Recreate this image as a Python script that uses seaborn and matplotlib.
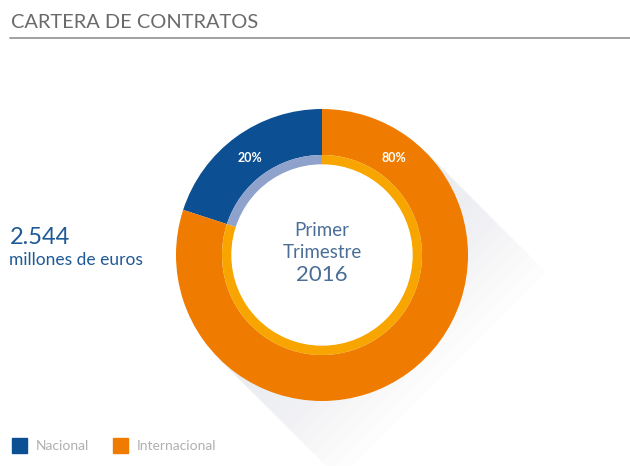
import numpy as np
import matplotlib
matplotlib.use("Agg")
import matplotlib.pyplot as plt
import seaborn as sns
from matplotlib.patches import Polygon

# ---- data ----
categories = ["Nacional", "Internacional"]
shares = [20, 80]
pct_labels = ["20%", "80%"]
title = "CARTERA DE CONTRATOS"
total_value = "2.544"
total_unit = "millones de euros"
center_lines = ["Primer", "Trimestre", "2016"]

main_colors = ["#0d4f93", "#ef7b00"]
inner_colors = ["#8fa2cc", "#f8a500"]

sns.set_theme(style="white")
plt.rcParams['font.family'] = ['Lato', 'DejaVu Sans']

W, H = 630, 466
fig = plt.figure(figsize=(W / 100, H / 100), dpi=100)
ax = fig.add_axes([0, 0, 1, 1])
ax.set_xlim(0, W)
ax.set_ylim(0, H)
ax.set_axis_off()

cx, cy = 322, H - 255
R_out, R_mid, R_in = 146, 100, 90

# long shadow (down-right, fading)
d = np.array([1, -1]) / np.sqrt(2)
p1 = np.array([cx, cy]) + R_out * np.array([np.cos(np.pi / 4), np.sin(np.pi / 4)])
p2 = np.array([cx, cy]) + R_out * np.array([np.cos(5 * np.pi / 4), np.sin(5 * np.pi / 4)])
for L in np.linspace(20, 170, 14):
    poly = Polygon([p1, p1 + L * d, p2 + L * d, p2], closed=True,
                   facecolor="#cfd3da", edgecolor="none", alpha=0.03, zorder=1)
    ax.add_patch(poly)

# donut rings
ax.pie(shares, colors=main_colors, startangle=90, counterclock=True,
       radius=R_out, center=(cx, cy), frame=True,
       wedgeprops=dict(width=R_out - R_mid, edgecolor="none", zorder=3))
ax.pie(shares, colors=inner_colors, startangle=90, counterclock=True,
       radius=R_mid, center=(cx, cy), frame=True,
       wedgeprops=dict(width=R_mid - R_in, edgecolor="none", zorder=3))
ax.add_patch(plt.Circle((cx, cy), R_in, color="white", zorder=4))
ax.set_xlim(0, W)
ax.set_ylim(0, H)
ax.set_aspect("equal")
ax.set_axis_off()

# percentage labels
for lab, ang in zip(pct_labels, [126.5, 53.5]):
    a = np.deg2rad(ang)
    ax.text(cx + 121 * np.cos(a), cy + 121 * np.sin(a), lab, color="white",
            fontsize=9, fontweight="bold", ha="center", va="center", zorder=5)

# center text
ctext = "#4a6e96"
ax.text(cx, H - 231, center_lines[0], color=ctext, fontsize=13.5, ha="center", va="center", zorder=5)
ax.text(cx, H - 252, center_lines[1], color=ctext, fontsize=13.5, ha="center", va="center", zorder=5)
ax.text(cx, H - 275, center_lines[2], color=ctext, fontsize=16, ha="center", va="center", zorder=5)

# left value
ax.text(10, H - 238, total_value, color="#1f5a96", fontsize=17, ha="left", va="center")
ax.text(9, H - 260, total_unit, color="#1f5a96", fontsize=12.5, ha="left", va="center")

# title and rule
ax.text(11, H - 23, title, color="#6a6a6a", fontsize=14.4, ha="left", va="center")
ax.plot([10, 630], [H - 37.5, H - 37.5], color="#9a9a9a", lw=1.3)

# legend
for x0, col, lab in [(12, main_colors[0], categories[0]), (113, main_colors[1], categories[1])]:
    ax.add_patch(plt.Rectangle((x0, H - 453), 15, 15, color=col))
    ax.text(x0 + 24, H - 445.5, lab, color="#b0b0b0", fontsize=10, ha="left", va="center")

fig.savefig("out.png", dpi=100)
